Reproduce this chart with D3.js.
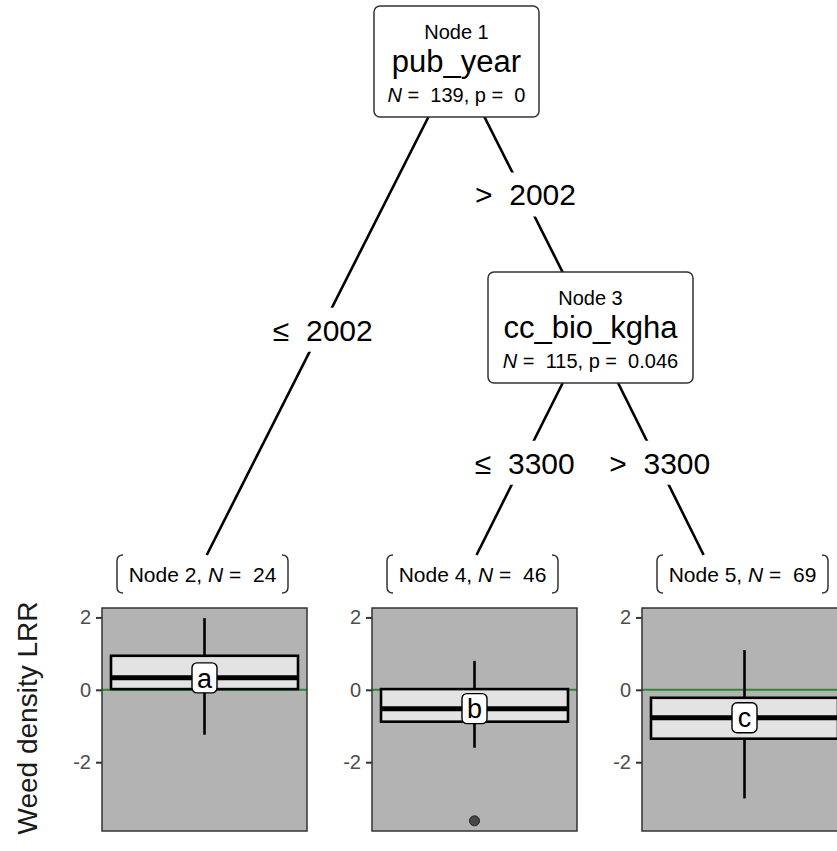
<!DOCTYPE html>
<html>
<head>
<meta charset="utf-8">
<script src="https://cdn.jsdelivr.net/npm/d3@7"></script>
<style>
  html, body { margin: 0; padding: 0; background: #fff; }
  svg { display: block; font-family: "Liberation Sans", Arial, Helvetica, sans-serif; }
  text { white-space: pre; }
  .tick text { font-size: 20px; }
</style>
</head>
<body>
<svg id="chart" width="837" height="851"></svg>
<script>
// ---- tree content ----
const innerIds = [1, 3];
const splitVars = ["pub_year", "cc_bio_kgha"];
const innerN = [139, 115];
const innerP = ["0", "0.046"];

const edgeFrom = [1, 1, 3, 3];
const edgeTo = [2, 3, 4, 5];
const edgeLabels = ["\u2264  2002", ">  2002", "\u2264  3300", ">  3300"];

// ---- terminal nodes and their boxplot statistics ----
const terminalIds = [2, 4, 5];
const terminalN = [24, 46, 69];
const groupLetters = ["a", "b", "c"];
const whiskerLow = [-1.24, -1.60, -3.00];
const lowerQuartile = [0.02, -0.88, -1.35];
const medians = [0.33, -0.52, -0.77];
const upperQuartile = [0.94, 0.02, -0.22];
const whiskerHigh = [1.98, 0.80, 1.10];
const outliers = [[], [-3.62], []];

const yTicks = [-2, 0, 2];
const yTitle = "Weed density LRR";
const refValue = 0;

// ---- layout ----
const svg = d3.select("#chart");
const panelTop = 608, panelBottom = 831;

const xPanel = d3.scaleBand()
  .domain(terminalIds)
  .range([102, 847])
  .paddingInner(65 / 270)
  .paddingOuter(0);

const allVals = [].concat(whiskerLow, whiskerHigh, ...outliers);
const [vmin, vmax] = d3.extent(allVals);
const pad = (vmax - vmin) * 0.05;
const y = d3.scaleLinear().domain([vmin - pad, vmax + pad]).range([panelBottom, panelTop]);

// node anchor positions of the tree drawing
const pos = {};
pos[1] = { x: 456.5, y: 61.5, w: 165, h: 111 };
pos[3] = { x: 590.5, y: 327.5, w: 205, h: 111 };
terminalIds.forEach(id => {
  const cx = xPanel(id) + xPanel.bandwidth() / 2;
  pos[id] = { x: cx - 19.5, y: 598, labelX: cx - 2, top: 555, bottom: 593, terminal: true };
});

const gEdges = svg.append("g");
const gNodes = svg.append("g");

// edges
edgeFrom.forEach((from, i) => {
  const p = pos[from], c = pos[edgeTo[i]];
  let x2 = c.x, y2 = c.y;
  if (c.terminal) {
    const t = (c.top - p.y) / (c.y - p.y);
    x2 = p.x + (c.x - p.x) * t;
    y2 = c.top;
  }
  gEdges.append("line")
    .attr("x1", p.x).attr("y1", p.y)
    .attr("x2", x2).attr("y2", y2)
    .attr("stroke", "#000").attr("stroke-width", 2.6);

  // edge label at midpoint of the edge
  const mx = (p.x + c.x) / 2, my = (p.y + c.y) / 2;
  const lbl = gEdges.append("g");
  lbl.append("rect")
    .attr("x", mx - 52).attr("y", my - 22).attr("width", 104).attr("height", 44)
    .attr("fill", "#fff");
  lbl.append("text")
    .attr("x", mx + 2).attr("y", my).attr("dy", "0.36em")
    .attr("text-anchor", "middle")
    .attr("font-size", 30).attr("fill", "#000")
    .text(edgeLabels[i]);
});

// inner nodes
innerIds.forEach((id, i) => {
  const p = pos[id];
  const g = gNodes.append("g");
  g.append("rect")
    .attr("x", p.x - p.w / 2).attr("y", p.y - p.h / 2)
    .attr("width", p.w).attr("height", p.h)
    .attr("rx", 6).attr("ry", 6)
    .attr("fill", "#fff").attr("stroke", "#333").attr("stroke-width", 1.5);
  const top = p.y - p.h / 2;
  g.append("text")
    .attr("x", p.x).attr("y", top + 33)
    .attr("text-anchor", "middle").attr("font-size", 20).attr("fill", "#000")
    .text("Node " + id);
  g.append("text")
    .attr("x", p.x).attr("y", top + 66)
    .attr("text-anchor", "middle").attr("font-size", 31).attr("fill", "#000")
    .text(splitVars[i]);
  const t = g.append("text")
    .attr("x", p.x).attr("y", top + 96)
    .attr("text-anchor", "middle").attr("font-size", 20).attr("fill", "#000");
  t.append("tspan").attr("font-style", "italic").text("N");
  t.append("tspan").text(" =  " + innerN[i] + ", p =  " + innerP[i]);
});

// terminal node labels (bracket-style rounded boxes)
terminalIds.forEach((id, i) => {
  const p = pos[id];
  const g = gNodes.append("g");
  const t = g.append("text")
    .attr("x", p.labelX).attr("y", p.bottom - 11)
    .attr("text-anchor", "middle").attr("font-size", 21).attr("fill", "#000");
  t.append("tspan").text("Node " + id + ", ");
  t.append("tspan").attr("font-style", "italic").text("N");
  t.append("tspan").text(" =  " + terminalN[i]);
  const x0 = p.labelX - 85.5, x1 = p.labelX + 85.5, y0 = p.top, y1 = p.bottom, r = 6;
  g.append("path")
    .attr("d", `M${x0 + r},${y0} Q${x0},${y0} ${x0},${y0 + r} L${x0},${y1 - r} Q${x0},${y1} ${x0 + r},${y1}` +
               ` M${x1 - r},${y0} Q${x1},${y0} ${x1},${y0 + r} L${x1},${y1 - r} Q${x1},${y1} ${x1 - r},${y1}`)
    .attr("fill", "none").attr("stroke", "#333").attr("stroke-width", 1.5);
});

// boxplot panels
const gPanels = svg.append("g");
terminalIds.forEach((id, i) => {
  const x0 = xPanel(id), w = xPanel.bandwidth();
  const cx = x0 + w / 2;
  const g = gPanels.append("g");

  g.append("rect")
    .attr("x", x0).attr("y", panelTop)
    .attr("width", w).attr("height", panelBottom - panelTop)
    .attr("fill", "#b3b3b3");

  // reference line at zero
  g.append("line")
    .attr("x1", x0).attr("x2", x0 + w)
    .attr("y1", y(refValue)).attr("y2", y(refValue))
    .attr("stroke", "#2e862e").attr("stroke-width", 2);

  // whisker
  g.append("line")
    .attr("x1", cx).attr("x2", cx)
    .attr("y1", y(whiskerLow[i])).attr("y2", y(whiskerHigh[i]))
    .attr("stroke", "#000").attr("stroke-width", 2.6);

  // box
  const bx = x0 + 9, bw = w - 18;
  g.append("rect")
    .attr("x", bx).attr("y", y(upperQuartile[i]))
    .attr("width", bw).attr("height", y(lowerQuartile[i]) - y(upperQuartile[i]))
    .attr("fill", "#e3e3e3").attr("stroke", "#000").attr("stroke-width", 2.6);

  // median
  g.append("line")
    .attr("x1", bx).attr("x2", bx + bw)
    .attr("y1", y(medians[i])).attr("y2", y(medians[i]))
    .attr("stroke", "#000").attr("stroke-width", 5);

  // outliers
  g.selectAll("circle.out").data(outliers[i]).enter().append("circle")
    .attr("class", "out")
    .attr("cx", cx).attr("cy", d => y(d)).attr("r", 5)
    .attr("fill", "#474747").attr("stroke", "#222").attr("stroke-width", 1);

  // group letter label
  const lg = g.append("g").attr("transform", `translate(${cx},${y(medians[i])})`);
  lg.append("rect")
    .attr("x", -12.5).attr("y", -15).attr("width", 25).attr("height", 30)
    .attr("rx", 5).attr("ry", 5)
    .attr("fill", "#fff").attr("stroke", "#000").attr("stroke-width", 1.4);
  lg.append("text")
    .attr("text-anchor", "middle").attr("dy", "0.36em")
    .attr("font-size", 27).attr("fill", "#000")
    .text(groupLetters[i]);

  // panel border
  g.append("rect")
    .attr("x", x0).attr("y", panelTop)
    .attr("width", w).attr("height", panelBottom - panelTop)
    .attr("fill", "none").attr("stroke", "#333").attr("stroke-width", 1.5);

  // y axis
  const ax = g.append("g")
    .attr("transform", `translate(${x0},0)`)
    .call(d3.axisLeft(y).tickValues(yTicks).tickSize(6).tickPadding(5).tickFormat(d => String(d)));
  ax.attr("font-size", 20).attr("font-family", "'Liberation Sans', Arial, sans-serif");
  ax.select(".domain").remove();
  ax.selectAll(".tick line").attr("stroke", "#333").attr("stroke-width", 2);
  ax.selectAll(".tick text")
    .attr("font-size", 20).attr("fill", "#4d4d4d");
});

// y axis title
svg.append("text")
  .attr("transform", `translate(37,718) rotate(-90)`)
  .attr("text-anchor", "middle")
  .attr("font-size", 28).attr("fill", "#1a1a1a")
  .text(yTitle);
</script>
</body>
</html>
